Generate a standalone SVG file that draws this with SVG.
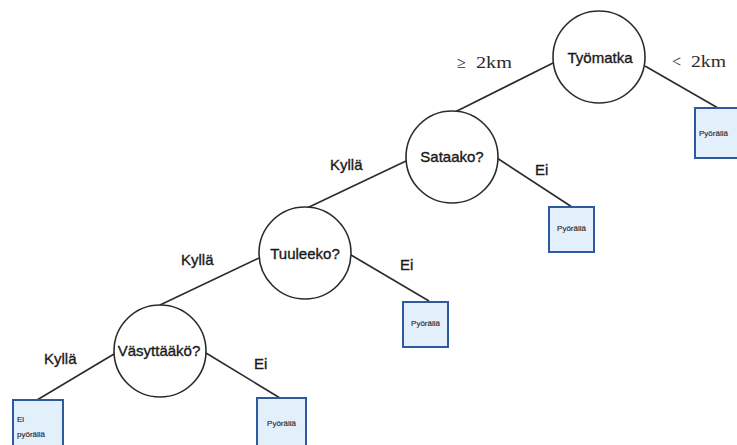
<svg xmlns="http://www.w3.org/2000/svg" width="737" height="445" viewBox="0 0 737 445">
  <style>
    .edge { stroke: #2b2b2b; stroke-width: 1.6; fill: none; }
    .q { fill: #ffffff; stroke: #2b2b2b; stroke-width: 1.6; }
    .qt { font-family: "Liberation Sans", Arial, sans-serif; font-size: 15px; fill: #1a1a1a; stroke: #1a1a1a; stroke-width: 0.35; text-anchor: middle; dominant-baseline: central; }
    .leaf { fill: #e3f0fc; stroke: #2c5a9e; stroke-width: 2; }
    .lt { font-family: "Liberation Sans", Arial, sans-serif; font-size: 8px; fill: #2a2a2a; stroke: #2a2a2a; stroke-width: 0.15; }
    .lab { font-family: "Liberation Sans", Arial, sans-serif; font-size: 15px; fill: #1a1a1a; stroke: #1a1a1a; stroke-width: 0.35; }
    .math { font-family: "Liberation Serif", "Times New Roman", serif; font-size: 16px; fill: #2a2a2a; }
  </style>
  <rect width="737" height="445" fill="#ffffff"/>

  <g id="connectors">
    <line class="edge" x1="553" y1="63" x2="455" y2="112"/>
    <line class="edge" x1="645" y1="66" x2="718" y2="108"/>
    <line class="edge" x1="406" y1="161" x2="307" y2="208"/>
    <line class="edge" x1="497" y1="158" x2="572" y2="207"/>
    <line class="edge" x1="259" y1="258" x2="160" y2="305"/>
    <line class="edge" x1="351" y1="255" x2="429" y2="301"/>
    <line class="edge" x1="114" y1="354" x2="37" y2="400"/>
    <line class="edge" x1="206" y1="353" x2="280" y2="398"/>
  </g>

  <g id="edge-labels">
    <text class="math" x="457" y="68">≥</text>
    <text class="math" x="476" y="68" textLength="36" lengthAdjust="spacingAndGlyphs">2km</text>
    <text class="math" x="672" y="67">&lt;</text>
    <text class="math" x="691" y="67" textLength="35" lengthAdjust="spacingAndGlyphs">2km</text>
    <text class="lab" x="330" y="170">Kyllä</text>
    <text class="lab" x="535" y="175">Ei</text>
    <text class="lab" x="181" y="265">Kyllä</text>
    <text class="lab" x="400" y="270">Ei</text>
    <text class="lab" x="44" y="364">Kyllä</text>
    <text class="lab" x="254" y="369">Ei</text>
  </g>

  <g id="tyomatka">
    <circle class="q" cx="599" cy="57" r="46"/>
    <text class="qt" x="600" y="57">Työmatka</text>
  </g>
  <g id="sataako">
    <circle class="q" cx="452" cy="157" r="46"/>
    <text class="qt" x="452" y="156">Sataako?</text>
  </g>
  <g id="tuuleeko">
    <circle class="q" cx="305" cy="253" r="46"/>
    <text class="qt" x="305" y="253">Tuuleeko?</text>
  </g>
  <g id="vasyttaako">
    <circle class="q" cx="160" cy="351" r="46"/>
    <text class="qt" x="159" y="350">Väsyttääkö?</text>
  </g>

  <g id="leaf-short">
    <rect class="leaf" x="695" y="108" width="46" height="50"/>
    <text class="lt" x="699" y="136">Pyörällä</text>
  </g>
  <g id="leaf-rain-no">
    <rect class="leaf" x="549" y="207" width="45" height="45"/>
    <text class="lt" x="571.5" y="231" text-anchor="middle">Pyörällä</text>
  </g>
  <g id="leaf-wind-no">
    <rect class="leaf" x="403" y="302" width="45" height="45"/>
    <text class="lt" x="425.5" y="326" text-anchor="middle">Pyörällä</text>
  </g>
  <g id="leaf-tired-yes">
    <rect class="leaf" x="13" y="400" width="50" height="50"/>
    <text class="lt" x="17" y="422">Ei</text>
    <text class="lt" x="17" y="437">pyörällä</text>
  </g>
  <g id="leaf-tired-no">
    <rect class="leaf" x="257" y="398" width="49" height="52"/>
    <text class="lt" x="281.5" y="426" text-anchor="middle">Pyörällä</text>
  </g>
</svg>
